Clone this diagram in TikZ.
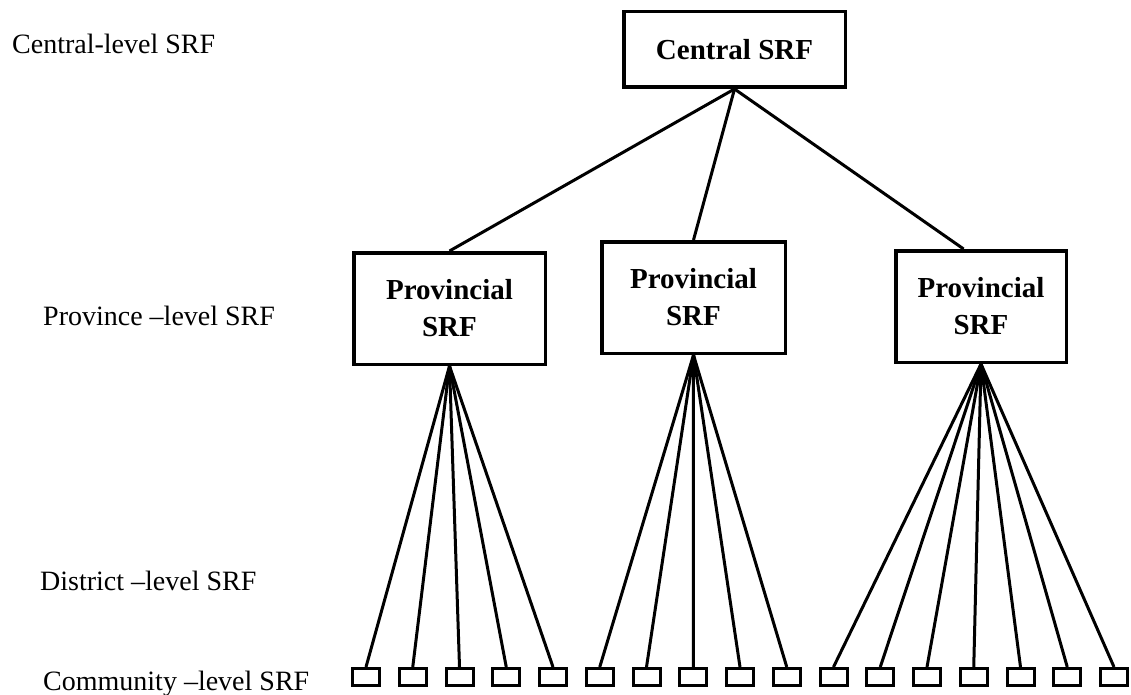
\documentclass[tikz,border=0pt]{standalone}
\usepackage{fontspec}
\setmainfont{Liberation Serif}
\usetikzlibrary{calc}
\begin{document}
\begin{tikzpicture}[x=1pt,y=-1pt,
  bigbox/.style={draw,line width=3.5pt,inner sep=0pt,align=center,font=\fontsize{29}{37}\selectfont\bfseries},
  comm/.style={draw,line width=3pt,inner sep=0pt,minimum width=27pt,minimum height=17pt},
  link/.style={line width=3pt},
  lvl/.style={anchor=base west,inner sep=0pt,font=\fontsize{28}{34}\selectfont}]
\useasboundingbox (0,0) rectangle (1131,695);
\fill[white] (0,0) rectangle (1131,695);
% level labels
\node[lvl] (l1) at (12,54) {Central-level SRF};
\node[lvl] (l2) at (43,325) {Province –level SRF};
\node[lvl] (l3) at (40,590) {District –level SRF};
\node[lvl] (l4) at (43,690) {Community –level SRF};
% boxes
\node[bigbox,minimum width=221.5pt,minimum height=75.5pt] (c) at (734.5,49.5) {Central SRF};
\node[bigbox,minimum width=191.5pt,minimum height=111.5pt] (p1) at (449.5,308.5) {Provincial\\SRF};
\node[bigbox,minimum width=183.5pt,minimum height=111.5pt] (p2) at (693.5,297.5) {Provincial\\SRF};
\node[bigbox,minimum width=170.5pt,minimum height=111.5pt] (p3) at (981,306.5) {Provincial\\SRF};
\coordinate (p3in) at ($(p3.north west)!0.4!(p3.north east)$);
\draw[link] (c.south) -- (p1.north);
\draw[link] (c.south) -- (p2.north);
\draw[link] (c.south) -- (p3in);
% community boxes
\foreach \i in {0,...,16} {
  \node[comm] (k\i) at ({366+46.75*\i},677) {};
}
\foreach \i in {0,...,4} { \draw[link] (p1.south) -- (k\i.north); }
\foreach \i in {5,...,9} { \draw[link] (p2.south) -- (k\i.north); }
\foreach \i in {10,...,16} { \draw[link] (p3.south) -- (k\i.north); }
\end{tikzpicture}
\end{document}
